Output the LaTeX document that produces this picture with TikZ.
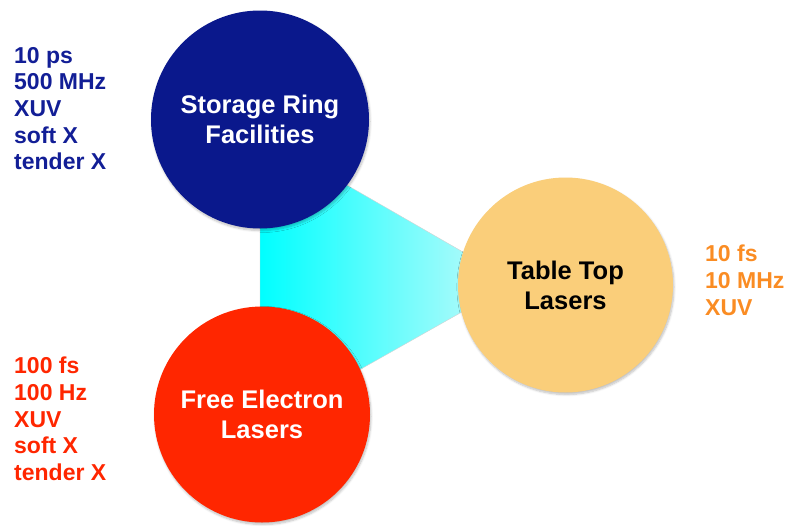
\documentclass[tikz,border=0pt]{standalone}
\usepackage{fontspec}
\setmainfont{Liberation Sans}
\usetikzlibrary{shadows.blur}
\definecolor{srblue}{RGB}{10,24,140}
\definecolor{txblue}{RGB}{18,30,150}
\definecolor{felred}{RGB}{255,38,0}
\definecolor{ttorange}{RGB}{250,206,122}
\definecolor{txorange}{RGB}{250,140,35}
\definecolor{cyanL}{RGB}{0,255,255}
\definecolor{cyanR}{RGB}{205,250,250}
\tikzset{
  bubble/.style={circle, inner sep=0pt, align=center,
    font=\bfseries\fontsize{25.5}{30}\selectfont,
    blur shadow={shadow xshift=1pt, shadow yshift=-2pt, shadow blur steps=6, shadow opacity=25}},
  props/.style={anchor=north west, inner sep=0pt, align=left,
    font=\bfseries\fontsize{23}{26.6}\selectfont}
}
\begin{document}
\begin{tikzpicture}[x=1pt,y=-1pt]
\useasboundingbox (0,0) rectangle (787,525);
% connecting wedge
\shade[left color=cyanL, right color=cyanR, draw=gray!35, line width=0.4pt]
  (260,135) -- (515,282) -- (260,426) -- cycle;
% circles
\node[bubble, fill=srblue, text=white, minimum size=218pt] (sr) at (260,119.5) {Storage Ring\\Facilities};
\node[bubble, fill=felred, text=white, minimum size=216pt] (fel) at (262,414.5) {Free Electron\\Lasers};
\node[bubble, fill=ttorange, text=black, minimum size=215pt] (tt) at (565.5,285) {Table Top\\Lasers};
% property lists
\node[props, text=txblue] (srp) at (14,47) {10 ps\\500 MHz\\XUV\\soft X\\tender X};
\node[props, text=felred] (felp) at (14,357) {100 fs\\100 Hz\\XUV\\soft X\\tender X};
\node[props, text=txorange] (ttp) at (705,245) {10 fs\\10 MHz\\XUV};
\end{tikzpicture}
\end{document}
